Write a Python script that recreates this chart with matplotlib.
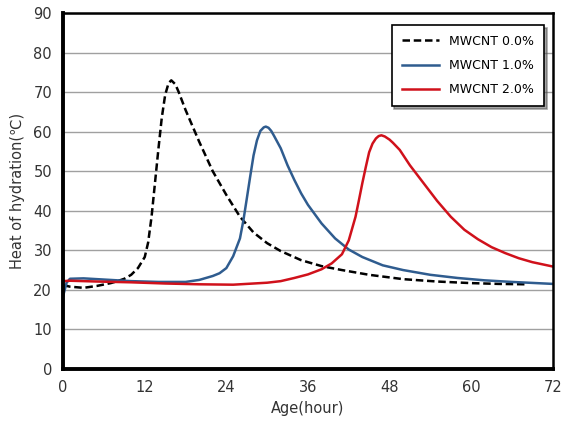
import matplotlib
matplotlib.use('Agg')
import matplotlib.pyplot as plt

# values
hours_0 = [0, 1, 3, 5, 7, 8, 9, 10, 11, 12, 12.5, 13, 13.5, 14, 14.5, 15, 15.5, 15.9, 16.5, 17, 18,
           20, 22, 24, 26, 28, 30, 32, 35, 38, 41, 45, 50, 55, 60, 64, 68]
temp_0 = [21.2, 20.8, 20.5, 21, 21.7, 22.2, 22.8, 23.8, 25.5, 28.3, 32, 38.5, 47, 55.5, 63.5, 69.3, 72.3, 73, 72, 70, 65.5,
          57.5, 50, 44, 38.5, 34.5, 31.8, 29.8, 27.5, 26, 25, 23.8, 22.7, 22.1, 21.7, 21.5, 21.4]

hours_1 = [0, 0.5, 1, 3, 6, 10, 14, 18, 20, 22, 23, 24, 25, 26, 26.5, 27, 27.5, 28, 28.5, 29,
           29.5, 29.8, 30.2, 30.6, 31, 32, 33, 34, 35, 36, 38, 40, 42, 44, 47, 50, 54, 58, 62, 66, 72]
temp_1 = [18.5, 21.8, 22.8, 22.9, 22.6, 22.2, 22, 22, 22.5, 23.5, 24.2, 25.5, 28.5, 33, 37.5, 43, 48.6, 54, 57.8, 60.2,
          61.1, 61.3, 61, 60.2, 59, 55.8, 51.5, 47.8, 44.4, 41.5, 36.8, 33, 30.2, 28.3, 26.2, 25, 23.8, 23, 22.4, 22, 21.5]

hours_2 = [0, 1, 5, 10, 15, 20, 25, 30, 32, 34, 36, 38, 39.5, 41, 42, 43, 43.5, 44, 44.5, 45,
           45.5, 46, 46.4, 46.8, 47.3, 48, 48.5, 49.5, 51, 53, 55, 57, 59, 61, 63, 65, 67, 69, 72]
temp_2 = [22.2, 22.3, 22.1, 21.9, 21.6, 21.4, 21.3, 21.8, 22.2, 23, 23.9, 25.2, 26.7, 29, 32.5, 38.5, 42.7, 47, 51, 54.8,
          57, 58.3, 58.9, 59.1, 58.8, 58, 57.2, 55.4, 51.5, 47, 42.5, 38.5, 35.2, 32.8, 30.8, 29.3, 28, 27, 25.9]

labels = ['MWCNT 0.0%', 'MWCNT 1.0%', 'MWCNT 2.0%']
x_ticks = [0, 12, 24, 36, 48, 60, 72]
y_ticks = list(range(0, 100, 10))


def main():
    fig = plt.figure(figsize=(5.64, 4.24), dpi=100)
    ax = fig.add_axes([0.112, 0.130, 0.868, 0.839])

    ax.plot(hours_0, temp_0, color='black', ls=(0, (3, 1.5)), lw=1.8, label=labels[0])
    ax.plot(hours_1, temp_1, color='#2F5C8F', lw=1.8, label=labels[1])
    ax.plot(hours_2, temp_2, color='#D0111B', lw=1.8, label=labels[2])

    ax.set_xlim(0, 72)
    ax.set_ylim(0, 90)
    ax.set_xticks(x_ticks)
    ax.set_yticks(y_ticks)
    ax.tick_params(length=0, labelsize=10.5, colors='#333333', pad=8)
    ax.grid(axis='y', color='#A0A0A0', lw=1)
    ax.set_axisbelow(True)
    for name, s in ax.spines.items():
        s.set_color('black')
        s.set_linewidth(2.8 if name in ('left', 'bottom') else 1.8)

    ax.set_xlabel('Age(hour)', fontsize=10.5, color='#333333')
    ax.set_ylabel('Heat of hydration(\u2103)', fontsize=10.5, color='#333333', labelpad=6)

    leg = ax.legend(loc='upper right', bbox_to_anchor=(0.995, 0.985), fontsize=9,
                    fancybox=False, shadow=True, edgecolor='black', framealpha=1,
                    handlelength=3, borderpad=0.8, labelspacing=0.9)
    leg.get_frame().set_linewidth(1.2)

    fig.savefig('out.png', dpi=100)


if __name__ == '__main__':
    main()
